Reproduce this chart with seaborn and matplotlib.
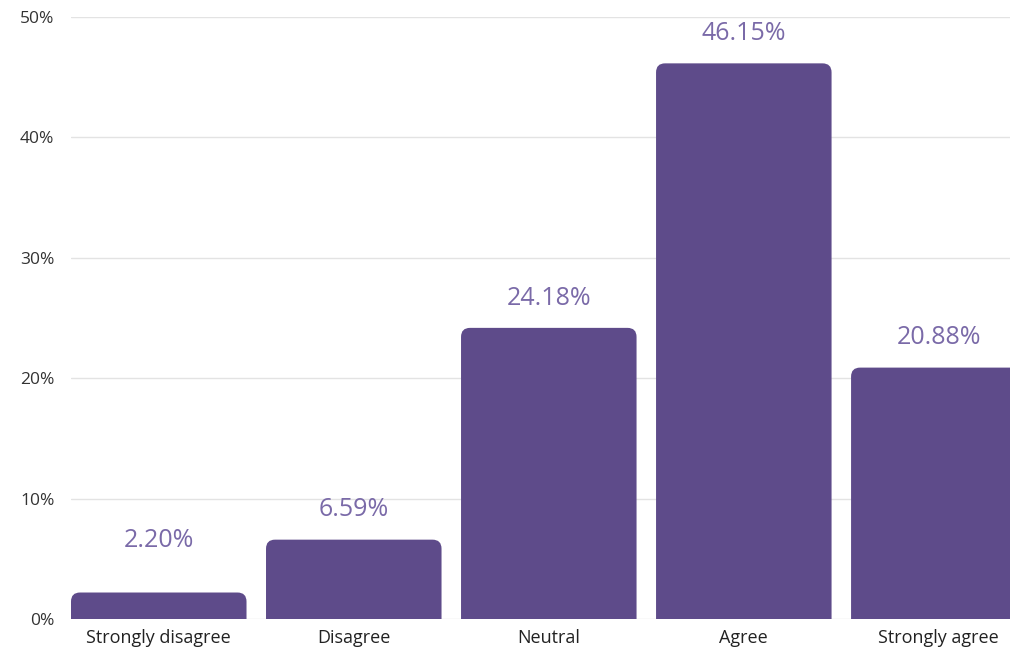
import matplotlib
matplotlib.use("Agg")
import matplotlib.pyplot as plt
from matplotlib.patches import FancyBboxPatch
import seaborn as sns
import pandas as pd

categories = ["Strongly disagree", "Disagree", "Neutral", "Agree", "Strongly agree"]
percent = [2.20, 6.59, 24.18, 46.15, 20.88]
y_ticks = [0, 10, 20, 30, 40, 50]

bar_color = "#5e4b8a"
label_color = "#7a6aa8"

sns.set_theme(style="white")
plt.rcParams["font.family"] = ["Open Sans", "DejaVu Sans"]

df = pd.DataFrame({"category": categories, "percent": percent})

fig = plt.figure(figsize=(10.1, 6.49), dpi=100)
ax = fig.add_axes([71 / 1010, 30 / 649, 939 / 1010, 602 / 649])

sns.barplot(data=df, x="category", y="percent", color=bar_color,
            width=0.9, saturation=1, ax=ax)

ax.set_xlim(-0.45, 4.365)
ax.set_ylim(0, 50)

# swap the plain bars for ones with rounded tops (bottom corners clipped away)
px_x = 939 / (4.365 + 0.45)
px_y = 602 / 50
for bar in list(ax.patches):
    x0, w, h = bar.get_x(), bar.get_width(), bar.get_height()
    bar.remove()
    r = 9 / px_x
    fb = FancyBboxPatch((x0, -3), w, h + 3,
                        boxstyle=f"round,pad=0,rounding_size={r}",
                        mutation_aspect=px_x / px_y,
                        fc=bar_color, ec="none", zorder=3)
    ax.add_patch(fb)

for i, v in enumerate(percent):
    ax.annotate(f"{v:.2f}%", (i, max(v, 4.0)), xytext=(0, 21.5),
                textcoords="offset points", ha="center", va="center",
                fontsize=18, color=label_color)

ax.set_yticks(y_ticks)
ax.set_yticklabels([f"{t}%" for t in y_ticks])
ax.grid(axis="y", color="#e3e3e3", linewidth=1)
ax.set_axisbelow(True)
for s in ax.spines.values():
    s.set_visible(False)
ax.tick_params(axis="y", length=0, pad=12, labelsize=12.5, labelcolor="#333333")
ax.tick_params(axis="x", length=0, pad=7, labelsize=13, labelcolor="#222222")
ax.set_xlabel("")
ax.set_ylabel("")

fig.savefig("out.png", dpi=100)
